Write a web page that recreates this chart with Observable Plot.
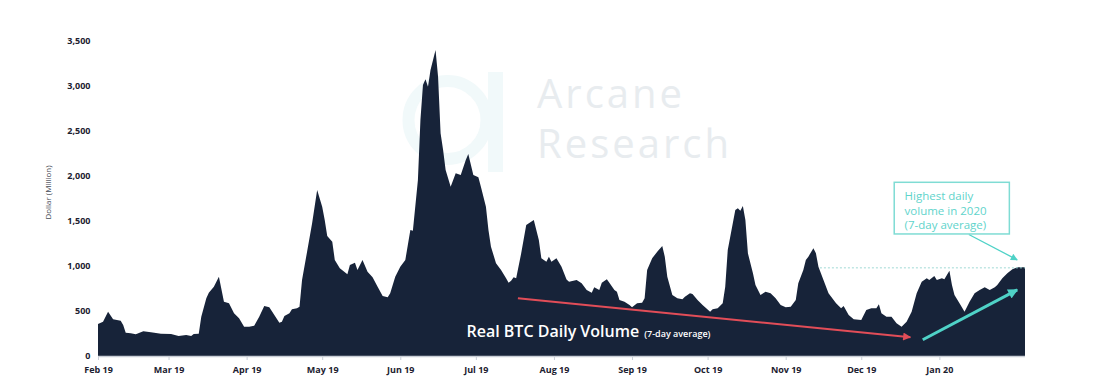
<!DOCTYPE html>
<html>
<head>
<meta charset="utf-8">
<script src="https://cdn.jsdelivr.net/npm/d3@7"></script>
<script src="https://cdn.jsdelivr.net/npm/@observablehq/plot@0.6"></script>
<style>
  html, body { margin: 0; padding: 0; background: #fff; }
  #wrap { position: relative; width: 1098px; height: 378px; overflow: hidden; }
  #wm, #chart { position: absolute; left: 0; top: 0; }
  #chart svg { display: block; }
  #chart g[aria-label="y-axis tick label"] text,
  #chart g[aria-label="x-axis tick label"] text { font-weight: 700; }
</style>
</head>
<body>
<div id="wrap">
  <svg id="wm" width="1098" height="378">
    <circle cx="447.5" cy="120" r="39" fill="none" stroke="#f1f9fa" stroke-width="12"></circle>
    <rect x="488" y="72" width="15" height="100" fill="#f1f9fa"></rect>
    <text x="537" y="108" font-family="'Open Sans', sans-serif" font-weight="400" font-size="40" letter-spacing="3" fill="#e8ecef">Arcane</text>
    <text x="537" y="158" font-family="'Open Sans', sans-serif" font-weight="400" font-size="40" letter-spacing="3" fill="#e8ecef">Research</text>
  </svg>
  <div id="chart"></div>
</div>
<script>
// ---- Data ----
const dates = ["2019-02-01","2019-02-03","2019-02-05","2019-02-07","2019-02-10","2019-02-11","2019-02-12","2019-02-14","2019-02-16","2019-02-19","2019-02-22","2019-02-26",
"2019-03-02","2019-03-05","2019-03-08","2019-03-10","2019-03-11","2019-03-13","2019-03-14","2019-03-16","2019-03-17","2019-03-19","2019-03-21","2019-03-23","2019-03-25","2019-03-27","2019-03-29","2019-03-31",
"2019-04-02","2019-04-04","2019-04-06","2019-04-08","2019-04-10","2019-04-12","2019-04-14","2019-04-15","2019-04-16","2019-04-18","2019-04-19","2019-04-21","2019-04-22","2019-04-23","2019-04-25","2019-04-27","2019-04-29",
"2019-05-01","2019-05-02","2019-05-03","2019-05-05","2019-05-06","2019-05-08","2019-05-11","2019-05-12","2019-05-14","2019-05-15","2019-05-17","2019-05-19","2019-05-21","2019-05-23","2019-05-25","2019-05-27","2019-05-28","2019-05-30",
"2019-06-01","2019-06-03","2019-06-05","2019-06-06","2019-06-08","2019-06-09","2019-06-10","2019-06-11","2019-06-12","2019-06-13","2019-06-15","2019-06-16","2019-06-17","2019-06-18","2019-06-19","2019-06-21","2019-06-23","2019-06-25","2019-06-27","2019-06-28","2019-06-30",
"2019-07-02","2019-07-03","2019-07-05","2019-07-06","2019-07-07","2019-07-09","2019-07-11","2019-07-13","2019-07-14","2019-07-15","2019-07-16","2019-07-17","2019-07-19","2019-07-21","2019-07-24","2019-07-26","2019-07-27","2019-07-29","2019-07-30","2019-07-31",
"2019-08-02","2019-08-04","2019-08-06","2019-08-07","2019-08-10","2019-08-12","2019-08-14","2019-08-16","2019-08-17","2019-08-19","2019-08-20","2019-08-22","2019-08-23","2019-08-25","2019-08-26","2019-08-27","2019-08-29","2019-08-31",
"2019-09-01","2019-09-03","2019-09-05","2019-09-06","2019-09-07","2019-09-09","2019-09-11","2019-09-13","2019-09-14","2019-09-15","2019-09-17","2019-09-19","2019-09-21","2019-09-22","2019-09-24","2019-09-25","2019-09-27","2019-09-29",
"2019-10-02","2019-10-03","2019-10-05","2019-10-07","2019-10-08","2019-10-09","2019-10-11","2019-10-12","2019-10-13","2019-10-14","2019-10-15","2019-10-16","2019-10-17","2019-10-19","2019-10-20","2019-10-22","2019-10-24","2019-10-26","2019-10-28","2019-10-30",
"2019-11-01","2019-11-03","2019-11-05","2019-11-06","2019-11-08","2019-11-09","2019-11-10","2019-11-12","2019-11-13","2019-11-14","2019-11-16","2019-11-18","2019-11-21","2019-11-23","2019-11-24","2019-11-26","2019-11-28",
"2019-12-01","2019-12-03","2019-12-05","2019-12-07","2019-12-08","2019-12-09","2019-12-11","2019-12-13","2019-12-15","2019-12-17","2019-12-19","2019-12-21","2019-12-23","2019-12-25","2019-12-27","2019-12-28","2019-12-30","2019-12-31",
"2020-01-02","2020-01-03","2020-01-05","2020-01-06","2020-01-07","2020-01-09","2020-01-11","2020-01-13","2020-01-15","2020-01-17","2020-01-19","2020-01-21","2020-01-23","2020-01-24","2020-01-26","2020-01-28","2020-01-30",
"2020-02-01","2020-02-04"];

const volumes = [355,381,492,408,393,344,259,252,241,274,263,248,
244,222,233,222,244,248,437,641,704,770,881,604,585,474,419,326,
326,337,437,556,541,456,370,381,444,474,519,530,548,844,1159,1474,1844,
1659,1511,1333,1270,1067,974,907,1011,1037,955,1067,937,874,770,667,652,696,881,
992,1067,1400,1393,1955,2622,3011,3074,2993,3178,3400,3104,2474,2289,2067,1881,2030,2011,2178,2244,2011,
1985,1881,1659,1400,1215,1030,955,863,815,837,874,863,1141,1456,1511,1289,1085,1048,1104,1048,
1085,992,850,826,844,807,733,704,763,733,815,852,815,733,715,622,604,567,
541,585,593,641,955,1085,1159,1222,1104,881,678,641,630,659,696,689,622,567,
492,519,530,585,770,1178,1474,1622,1641,1615,1667,1511,1141,919,789,678,715,696,641,567,
541,548,622,807,955,1067,1104,1196,1141,992,844,696,585,530,556,456,408,
400,511,530,530,574,474,437,437,363,326,381,492,696,826,863,844,889,844,
863,852,948,789,678,585,492,604,696,733,763,733,763,789,863,919,963,
985,985];

const xDomain = ["2019-02-01", "2020-02-04"];
const xTicks = ["2019-02-01","2019-03-01","2019-04-01","2019-05-01","2019-06-01","2019-07-01","2019-08-01","2019-09-01","2019-10-01","2019-11-01","2019-12-01","2020-01-01"];
const yTicks = [0, 500, 1000, 1500, 2000, 2500, 3000, 3500];

// Annotations (in data coordinates)
const mainLabel = "Real BTC Daily Volume";
const subLabel = "(7-day average)";
const mainLabelAt = ["2019-06-27T02:00Z", 272];
const boxText = "Highest daily\nvolume in 2020\n(7-day average)";
const boxTextAt = ["2019-12-18T00:00Z", 1847];
const boxRect = ["2019-12-14T02:00Z", "2020-01-28T19:00Z", 1356, 1930];
const pointer = ["2020-01-12T12:00Z", 1356, "2020-01-31T17:00Z", 1074];
const redArrow = ["2019-07-17T12:00Z", 648, "2019-12-20T07:00Z", 214];
const tealArrow = ["2019-12-25T05:00Z", 186, "2020-01-31T17:00Z", 741];
const peakLineStart = "2019-11-14T14:00Z";

// ---- Build ----
const parse = d3.utcParse("%Y-%m-%d");
const iso = d3.isoParse;
const data = dates.map((d, i) => ({date: parse(d), volume: volumes[i]}));
const peak2020 = d3.max(data.filter(d => d.date >= parse("2020-01-01")), d => d.volume);

const NAVY = "#172339";
const TEAL = "#4fd2c7";
const RED = "#e24d58";
const link = a => [{x1: iso(a[0]), y1: a[1], x2: iso(a[2]), y2: a[3]}];

const chart = Plot.plot({
  width: 1098,
  height: 378,
  marginLeft: 98,
  marginRight: 73,
  marginTop: 41,
  marginBottom: 22,
  style: {background: "transparent", fontFamily: "'Open Sans', sans-serif", overflow: "visible"},
  x: {type: "utc", domain: xDomain.map(parse), label: null},
  y: {domain: [0, 3500], label: null},
  marks: [
    Plot.areaY(data, {x: "date", y: "volume", fill: NAVY}),
    Plot.ruleY([0], {stroke: "#c9ced6", strokeWidth: 1.5}),
    Plot.ruleY([{y: peak2020, x1: iso(peakLineStart), x2: parse(xDomain[1])}],
      {y: "y", x1: "x1", x2: "x2", stroke: "#9fd9d4", strokeWidth: 1, strokeDasharray: "2,2"}),
    Plot.axisY({ticks: yTicks, tickSize: 0, tickPadding: 8, tickFormat: d3.format(","), fontSize: 9, fill: "#1c2130", label: null}),
    Plot.axisX({ticks: xTicks.map(parse), tickFormat: d3.utcFormat("%b %y"), tickSize: 4, tickPadding: 6, fontSize: 9, stroke: "#c9ced6", fill: "#1c2130", label: null}),
    Plot.text(["Dollar (Million)"], {frameAnchor: "left", textAnchor: "middle", dx: -50, dy: -6.5, rotate: -90, fontSize: 8, fill: "#454a55"}),
    Plot.link(link(redArrow), {x1: "x1", y1: "y1", x2: "x2", y2: "y2", stroke: RED, strokeWidth: 2}),
    Plot.link(link(tealArrow), {x1: "x1", y1: "y1", x2: "x2", y2: "y2", stroke: TEAL, strokeWidth: 3}),
    Plot.link(link(pointer), {x1: "x1", y1: "y1", x2: "x2", y2: "y2", stroke: TEAL, strokeWidth: 1.3}),
    Plot.rect([{x1: iso(boxRect[0]), x2: iso(boxRect[1]), y1: boxRect[2], y2: boxRect[3]}],
      {x1: "x1", x2: "x2", y1: "y1", y2: "y2", fill: "white", stroke: "#7fdcd4", strokeWidth: 1.5}),
    Plot.text([{x: iso(boxTextAt[0]), y: boxTextAt[1], t: boxText}],
      {x: "x", y: "y", text: "t", textAnchor: "start", lineAnchor: "top", lineHeight: 1.24, fontSize: 11.5, fill: "#5fd4cb"}),
    Plot.text([{x: iso(mainLabelAt[0]), y: mainLabelAt[1], t: mainLabel}],
      {x: "x", y: "y", text: "t", textAnchor: "start", fontSize: 16, fontWeight: 600, fill: "white"})
  ]
});
document.getElementById("chart").appendChild(chart);

// arrowheads (filled triangles) and the small sub-label
const svg = d3.select(chart);
const defs = svg.append("defs");
function head(id, color, len, wid) {
  defs.append("marker").attr("id", id).attr("viewBox", "0 0 10 10")
    .attr("refX", 9).attr("refY", 5).attr("markerUnits", "userSpaceOnUse")
    .attr("markerWidth", len).attr("markerHeight", wid).attr("orient", "auto")
    .append("path").attr("d", "M0,0L10,5L0,10Z").attr("fill", color);
}
head("hRed", RED, 10, 8);
head("hTeal", TEAL, 11, 10);
head("hPtr", TEAL, 9, 7);
const links = svg.selectAll('g[aria-label="link"]').nodes();
const ids = ["hRed", "hTeal", "hPtr"];
links.forEach((g, i) => d3.select(g).selectAll("path").attr("marker-end", `url(#${ids[i]})`));
svg.selectAll("text").filter(function() { return this.textContent === mainLabel; })
  .append("tspan").attr("dx", 5).attr("font-size", 9).attr("font-weight", 600).text(subLabel);
</script>
</body>
</html>
